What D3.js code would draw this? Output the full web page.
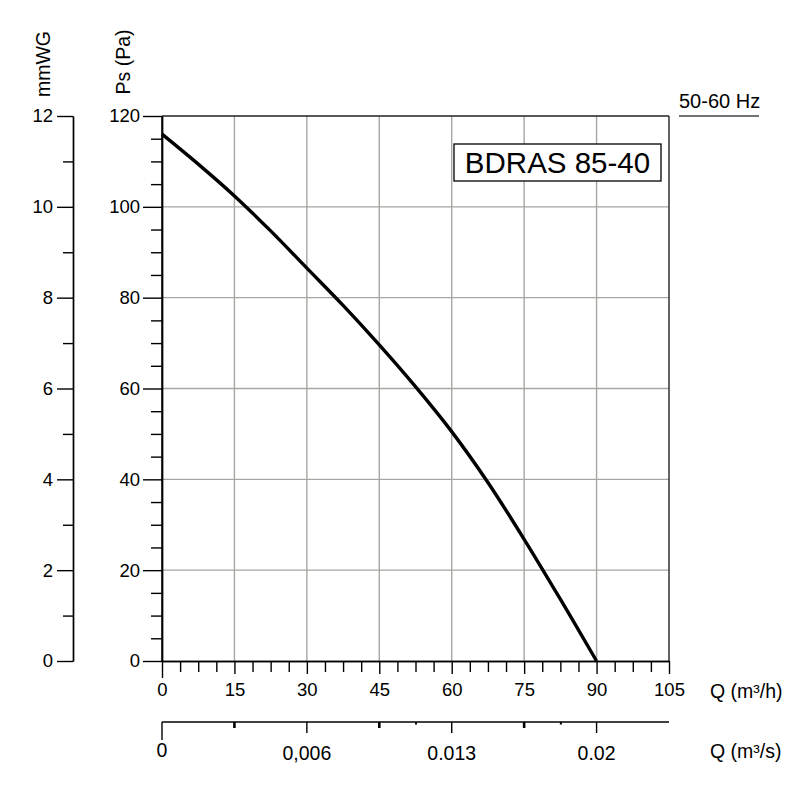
<!DOCTYPE html>
<html><head><meta charset="utf-8">
<script src="https://cdn.jsdelivr.net/npm/d3@7"></script>
<style>body{margin:0;background:#fff}svg{display:block;font-family:"Liberation Sans",Arial,sans-serif}</style>
</head><body><svg id="c" width="800" height="800"></svg>
<script>
// Data
const flowQ = [0, 7.5, 15, 22.5, 30, 37.5, 45, 52.5, 60, 67.5, 75, 82.5, 90];          // m³/h
const pressurePs = [116, 109.4, 102.4, 94.7, 86.5, 78.3, 69.6, 60.4, 50.5, 39.3, 26.8, 13.6, 0]; // Pa
const qTicks = [0, 15, 30, 45, 60, 75, 90, 105];
const psTicks = [0, 20, 40, 60, 80, 100, 120];
const mmTicks = [0, 2, 4, 6, 8, 10, 12];
const qsLabelPos = [0, 30, 60, 90];
const qsLabels = ["0", "0,006", "0.013", "0.02"];
const qsMidTicks = [15, 45, 75];
const qsDotTicks = [52.6, 82.6];
const modelName = "BDRAS 85-40";
const freqLabel = "50-60 Hz";

const svg = d3.select("#c");
const X0 = 162, X1 = 669, Y0 = 661, Y1 = 116;
const x = d3.scaleLinear().domain([0, 105]).range([X0, X1]);
const y = d3.scaleLinear().domain([0, 120]).range([Y0, Y1]);
const ymm = d3.scaleLinear().domain([0, 12]).range([Y0, Y1]);
const gridCol = "#a8a6a2";

// grid
const g = svg.append("g");
g.selectAll(".vg").data(qTicks.filter(d => d > 0 && d < 105)).join("line")
  .attr("x1", d => x(d)).attr("x2", d => x(d)).attr("y1", Y1).attr("y2", Y0)
  .attr("stroke", gridCol).attr("stroke-width", 1.4);
g.selectAll(".hg").data(psTicks.filter(d => d > 0 && d < 120)).join("line")
  .attr("x1", X0).attr("x2", X1).attr("y1", d => y(d)).attr("y2", d => y(d))
  .attr("stroke", gridCol).attr("stroke-width", 1.4);
// borders
g.append("line").attr("x1", X0).attr("x2", X1).attr("y1", Y1).attr("y2", Y1).attr("stroke", "#222").attr("stroke-width", 1.4);
g.append("line").attr("x1", X1).attr("x2", X1).attr("y1", Y1).attr("y2", Y0).attr("stroke", "#222").attr("stroke-width", 1.4);

// Ps axis
const psAxis = svg.append("g").attr("transform", `translate(${X0},0)`)
  .call(d3.axisLeft(y).tickValues(psTicks).tickSize(19).tickPadding(3).tickSizeOuter(0));
const psMinor = svg.append("g").attr("transform", `translate(${X0},0)`)
  .call(d3.axisLeft(y).tickValues(d3.range(5, 120, 5).filter(d => d % 20 !== 0)).tickSize(11).tickFormat("").tickSizeOuter(0));
// mmWG axis
const mmAxis = svg.append("g").attr("transform", `translate(73,0)`)
  .call(d3.axisLeft(ymm).tickValues(mmTicks).tickSize(16).tickPadding(4).tickSizeOuter(0));
const mmMinor = svg.append("g").attr("transform", `translate(73,0)`)
  .call(d3.axisLeft(ymm).tickValues([1,3,5,7,9,11]).tickSize(10).tickFormat("").tickSizeOuter(0));
// Q axis
const qAxis = svg.append("g").attr("transform", `translate(0,${Y0})`)
  .call(d3.axisBottom(x).tickValues(qTicks).tickSize(13).tickPadding(9).tickSizeOuter(0));
qAxis.selectAll(".tick line").filter(d => d === 0).attr("y2", 17);
const qMinor = svg.append("g").attr("transform", `translate(0,${Y0})`)
  .call(d3.axisBottom(x).tickValues(d3.range(3.75, 105, 3.75).filter(d => Math.abs(d % 15) > 0.01)).tickSize(11).tickFormat("").tickSizeOuter(0));
svg.append("line").attr("x1", X0).attr("x2", X0).attr("y1", Y1).attr("y2", Y0).attr("stroke", "#000").attr("stroke-width", 1.4);

[psAxis, psMinor, mmAxis, mmMinor, qAxis, qMinor].forEach(a => {
  a.attr("font-size", 18).attr("font-family", "Liberation Sans, Arial, sans-serif");
  a.selectAll("path.domain").attr("stroke", "#000").attr("stroke-width", 1.4);
  a.selectAll(".tick line").attr("stroke", "#000").attr("stroke-width", 1.4);
  a.selectAll("text").attr("font-size", 18.5).attr("fill", "#000");
});
qAxis.selectAll("text").attr("dy", "0.71em");

// Q m3/s axis
const YS = 722;
svg.append("line").attr("x1", X0).attr("x2", X1).attr("y1", YS).attr("y2", YS).attr("stroke", "#000").attr("stroke-width", 1.4);
svg.selectAll(".qsl").data(qsLabelPos).join("line")
  .attr("x1", d => x(d)).attr("x2", d => x(d)).attr("y1", YS).attr("y2", d => d === 0 ? YS + 18 : YS + 11)
  .attr("stroke", "#000").attr("stroke-width", 1.4);
svg.selectAll(".qsm").data(qsMidTicks).join("line")
  .attr("x1", d => x(d)).attr("x2", d => x(d)).attr("y1", YS).attr("y2", YS + 6)
  .attr("stroke", "#000").attr("stroke-width", 2.6);
svg.selectAll(".qsd").data(qsDotTicks).join("line")
  .attr("x1", d => x(d)).attr("x2", d => x(d)).attr("y1", YS).attr("y2", YS + 2.5)
  .attr("stroke", "#000").attr("stroke-width", 2);
svg.selectAll(".qst").data(qsLabels).join("text")
  .attr("x", (d, i) => x(qsLabelPos[i])).attr("y", (d, i) => i === 0 ? 757 : 760)
  .attr("text-anchor", "middle").attr("font-size", 19.5).text(d => d);

// curve
svg.append("path").datum(flowQ.map((q, i) => [q, pressurePs[i]]))
  .attr("d", d3.line().x(d => x(d[0])).y(d => y(d[1])).curve(d3.curveCatmullRom.alpha(0.5)))
  .attr("fill", "none").attr("stroke", "#000").attr("stroke-width", 3.4);

// axis titles
svg.append("text").attr("transform", "translate(50,64) rotate(-90)").attr("text-anchor", "middle").attr("font-size", 19.5).text("mmWG");
svg.append("text").attr("transform", "translate(130,62) rotate(-90)").attr("text-anchor", "middle").attr("font-size", 19.5).text("Ps (Pa)");
svg.append("text").attr("x", 710).attr("y", 698).attr("font-size", 19.5).text("Q (m³/h)");
svg.append("text").attr("x", 710).attr("y", 758).attr("font-size", 19.5).text("Q (m³/s)");

// freq
svg.append("text").attr("x", 679).attr("y", 108).attr("font-size", 20).text(freqLabel);
svg.append("line").attr("x1", 679).attr("x2", 759).attr("y1", 116).attr("y2", 116).attr("stroke", "#444").attr("stroke-width", 1.4);

// legend box
svg.append("rect").attr("x", 454).attr("y", 144).attr("width", 207).attr("height", 37).attr("fill", "#fff").attr("stroke", "#000").attr("stroke-width", 1.3);
svg.append("text").attr("x", 557.5).attr("y", 172.5).attr("text-anchor", "middle").attr("font-size", 29.5).text(modelName);
</script></body></html>
